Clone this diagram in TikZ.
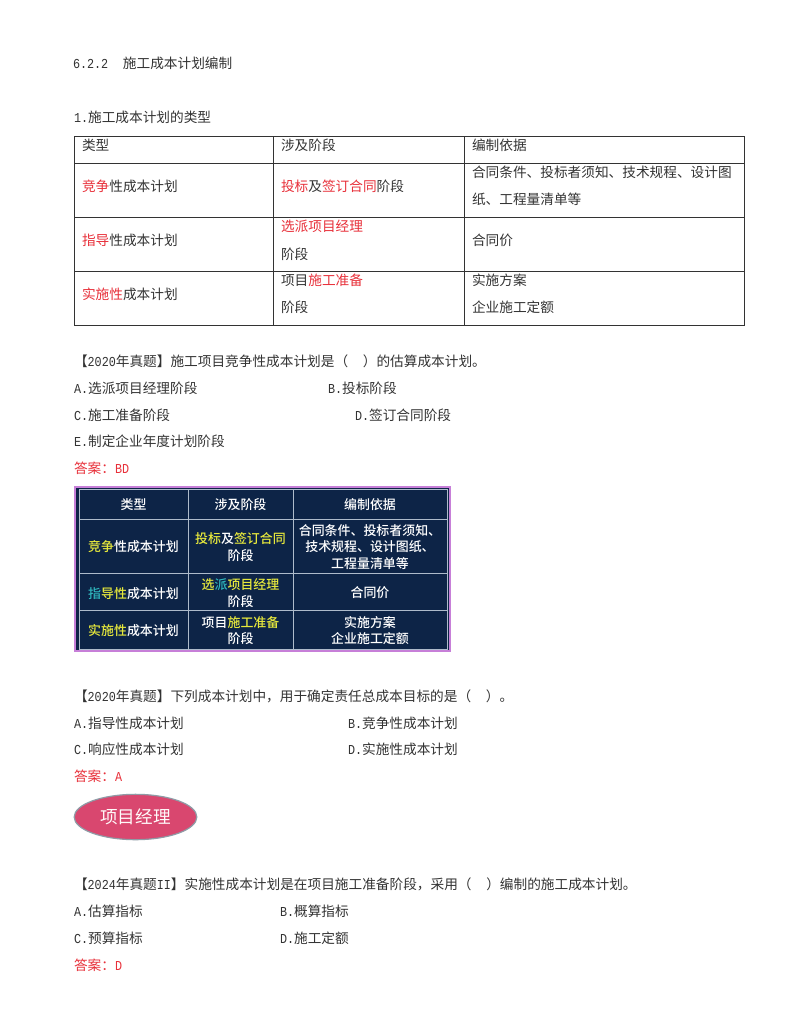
\documentclass[tikz,border=0pt]{standalone}
\usepackage{fontspec}
\setmainfont{Liberation Mono}
\newfontfamily\cjk{Noto Sans CJK SC}
\newfontfamily\cjkb{Noto Sans CJK SC Medium}
\newfontfamily\mono{Liberation Mono}[FakeStretch=0.86]
\definecolor{redtxt}{HTML}{E8303A}
\definecolor{ink}{HTML}{333333}
\definecolor{navy}{HTML}{0D2447}
\definecolor{gridl}{HTML}{AEBBCB}
\definecolor{yel}{HTML}{E6E83C}
\definecolor{cyn}{HTML}{2FB7BE}
\definecolor{pinkb}{HTML}{C77FD8}
\newcommand{\Rd}[1]{\textcolor{redtxt}{#1}}
\newcommand{\Yl}[1]{\textcolor{yel}{#1}}
\newcommand{\Cy}[1]{\textcolor{cyn}{#1}}
\usetikzlibrary{shapes.geometric}
\definecolor{pill}{HTML}{D9476F}
\definecolor{pillb}{HTML}{8F9BA6}
\tikzset{
  txt/.style={anchor=base west,inner sep=0pt,outer sep=0pt,text=ink,font=\fontsize{10.25}{12}\selectfont\cjk},
  ans/.style={txt,text=redtxt},
  grid/.style={draw=ink,line width=0.75pt},
  dtxt/.style={anchor=base,inner sep=0pt,outer sep=0pt,text=white,font=\fontsize{9.7}{12}\selectfont\cjkb},
  dline/.style={draw=gridl,line width=0.7pt},
  oval/.style={ellipse,draw=pillb,line width=0.9pt,fill=pill,text=white!92!pink,minimum width=92pt,minimum height=34pt,inner sep=0pt,font=\fontsize{13.2}{15}\selectfont\cjk}
}
\newcommand{\La}[1]{{\mono #1}}
\begin{document}
\begin{tikzpicture}[x=0.75pt,y=-0.75pt]
\useasboundingbox (0,0) rectangle (800,1035);
\fill[white] (0,0) rectangle (800,1035);
% headings
\node[txt] (h1) at (73,68.5) {\La{6.2.2}\hspace{11pt}施工成本计划编制};
\node[txt] (h2) at (74,122.5) {\La{1.}施工成本计划的类型};
% table 1
\draw[grid] (74,136) rectangle (744,325);
\draw[grid] (74,163) -- (744,163) (74,217) -- (744,217) (74,271) -- (744,271);
\draw[grid] (273,136) -- (273,325) (464,136) -- (464,325);
\node[txt] (a1) at (82,150) {类型};
\node[txt] (a2) at (281,150) {涉及阶段};
\node[txt] (a3) at (472,150) {编制依据};
\node[txt] (b1) at (82,191) {\Rd{竞争}性成本计划};
\node[txt] (b2) at (281,191) {\Rd{投标}及\Rd{签订合同}阶段};
\node[txt] (b3) at (472,177) {合同条件、投标者须知、技术规程、设计图};
\node[txt] (b4) at (472,204) {纸、工程量清单等};
\node[txt] (c1) at (82,245) {\Rd{指导}性成本计划};
\node[txt] (c2) at (281,231) {\Rd{选派项目经理}};
\node[txt] (c3) at (281,259) {阶段};
\node[txt] (c4) at (472,245) {合同价};
\node[txt] (d1) at (82,299) {\Rd{实施性}成本计划};
\node[txt] (d2) at (281,285) {项目\Rd{施工准备}};
\node[txt] (d3) at (281,312) {阶段};
\node[txt] (d4) at (472,285) {实施方案};
\node[txt] (d5) at (472,312) {企业施工定额};
% Q1
\node[txt] (q1) at (74,366) {【\La{2020}年真题】施工项目竞争性成本计划是（\hspace{11pt}）的估算成本计划。};
\node[txt] (q1a) at (74,393) {\La{A.}选派项目经理阶段};
\node[txt] (q1b) at (328,393) {\La{B.}投标阶段};
\node[txt] (q1c) at (74,420) {\La{C.}施工准备阶段};
\node[txt] (q1d) at (355,420) {\La{D.}签订合同阶段};
\node[txt] (q1e) at (74,446) {\La{E.}制定企业年度计划阶段};
\node[ans] (q1s) at (74,473) {答案：\La{BD}};
% dark table
\draw[fill=navy,draw=pinkb,line width=1pt] (75,487) rectangle (450,651);
\draw[dline] (79,489) rectangle (447,649);
\draw[dline] (79,519) -- (447,519) (79,573) -- (447,573) (79,610) -- (447,610);
\draw[dline] (188,489) -- (188,649) (293,489) -- (293,649);
\node[dtxt] (e1) at (133.5,509) {类型};
\node[dtxt] (e2) at (240.5,509) {涉及阶段};
\node[dtxt] (e3) at (370,509) {编制依据};
\node[dtxt] (f1) at (133.5,551) {\Yl{竞争}性成本计划};
\node[dtxt] (f2) at (240.5,543) {\Yl{投标}及\Yl{签订合同}};
\node[dtxt] (f3) at (240.5,560) {阶段};
\node[dtxt] (f4) at (370,535) {合同条件、投标者须知、};
\node[dtxt] (f5) at (370,551.5) {技术规程、设计图纸、};
\node[dtxt] (f6) at (370,568) {工程量清单等};
\node[dtxt] (g1) at (133.5,598) {\Cy{指}\Yl{导性}成本计划};
\node[dtxt] (g2) at (240.5,589) {\Yl{选}\Cy{派}\Yl{项目经理}};
\node[dtxt] (g3) at (240.5,606) {阶段};
\node[dtxt] (g4) at (370,597) {合同价};
\node[dtxt] (i1) at (133.5,635) {\Yl{实施性}成本计划};
\node[dtxt] (i2) at (240.5,627) {项目\Yl{施工准备}};
\node[dtxt] (i3) at (240.5,643) {阶段};
\node[dtxt] (i4) at (370,627) {实施方案};
\node[dtxt] (i5) at (370,643) {企业施工定额};
% Q2
\node[txt] (q2) at (74,701) {【\La{2020}年真题】下列成本计划中，用于确定责任总成本目标的是（\hspace{11pt}）。};
\node[txt] (q2a) at (74,728) {\La{A.}指导性成本计划};
\node[txt] (q2b) at (348,728) {\La{B.}竞争性成本计划};
\node[txt] (q2c) at (74,754) {\La{C.}响应性成本计划};
\node[txt] (q2d) at (348,754) {\La{D.}实施性成本计划};
\node[ans] (q2s) at (74,781) {答案：\La{A}};
\node[oval] (pm) at (135.5,817) {项目经理};
% Q3
\node[txt] (q3) at (74,889) {【\La{2024}年真题\La{II}】实施性成本计划是在项目施工准备阶段，采用（\hspace{11pt}）编制的施工成本计划。};
\node[txt] (q3a) at (74,916) {\La{A.}估算指标};
\node[txt] (q3b) at (280,916) {\La{B.}概算指标};
\node[txt] (q3c) at (74,943) {\La{C.}预算指标};
\node[txt] (q3d) at (280,943) {\La{D.}施工定额};
\node[ans] (q3s) at (74,970) {答案：\La{D}};
\end{tikzpicture}
\end{document}
